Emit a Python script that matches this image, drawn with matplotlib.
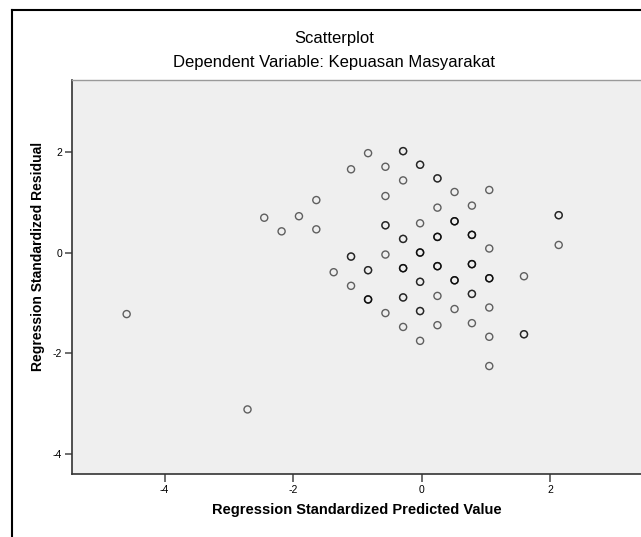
import matplotlib
matplotlib.use("Agg")
import matplotlib.pyplot as plt
from matplotlib.lines import Line2D

# predicted / residual pairs (repeated pairs = overlapping cases)
pred = [
    -4.59, -2.71, -2.45, -2.18, -1.91, -1.64, -1.64, -1.37,
    -1.10, -1.10, -1.10, -1.10,
    -0.835, -0.835, -0.835, -0.835, -0.835, -0.835,
    -0.565, -0.565, -0.565, -0.565, -0.565, -0.565,
    -0.29, -0.29, -0.29, -0.29, -0.29, -0.29, -0.29, -0.29, -0.29, -0.29, -0.29,
    -0.026, -0.026, -0.026, -0.026, -0.026, -0.026, -0.026, -0.026, -0.026, -0.026, -0.026,
    0.244, 0.244, 0.244, 0.244, 0.244, 0.244, 0.244, 0.244, 0.244, 0.244, 0.244,
    0.51, 0.51, 0.51, 0.51, 0.51, 0.51, 0.51, 0.51,
    0.78, 0.78, 0.78, 0.78, 0.78, 0.78, 0.78, 0.78, 0.78, 0.78,
    1.05, 1.05, 1.05, 1.05, 1.05, 1.05, 1.05, 1.05,
    1.59, 1.59, 1.59,
    2.13, 2.13, 2.13,
]
resid = [
    -1.22, -3.11, 0.69, 0.42, 0.72, 1.04, 0.46, -0.39,
    1.65, -0.08, -0.08, -0.66,
    1.97, -0.35, -0.35, -0.93, -0.93, -0.93,
    1.70, 1.12, 0.54, 0.54, -0.04, -1.20,
    2.01, 2.01, 1.43, 0.27, 0.27, -0.31, -0.31, -0.89, -0.89, -1.475, -0.31,
    1.74, 1.74, 0.58, 0.00, 0.00, -0.58, -0.58, -1.16, -1.16, -1.75, 0.00,
    1.47, 1.47, 0.89, 0.31, 0.31, -0.27, -0.27, -0.86, -1.44, 0.31, -0.27,
    1.20, 0.62, 0.62, -0.55, -0.55, -1.12, 0.62, -0.55,
    0.93, 0.35, 0.35, -0.23, -0.23, -0.82, -0.82, -1.40, -0.23, 0.35,
    1.24, 0.08, -0.51, -0.51, -1.09, -1.67, -2.25, -0.51,
    -0.47, -1.62, -1.62,
    0.74, 0.74, 0.15,
]

x_ticks = [-4, -2, 0, 2]
y_ticks = [-4, -2, 0, 2]

plt.rcParams["font.family"] = ["Liberation Sans", "DejaVu Sans"]
plt.rcParams["axes.unicode_minus"] = False

W, H = 641, 537
fig = plt.figure(figsize=(W / 100, H / 100), dpi=100)
ax = fig.add_axes([72 / W, 1 - 474 / H, 1 - 72 / W, (474 - 80) / H])
ax.set_facecolor("#efefef")

ax.scatter(pred, resid, s=26, facecolors="none", edgecolors="black",
           linewidths=1.0, alpha=0.6, zorder=3)

ax.set_xlim(-5.44, 3.41)
ax.set_ylim(-4.39, 3.42)
ax.set_xticks(x_ticks)
ax.set_yticks(y_ticks)
ax.tick_params(axis="x", length=6, width=1.2, color="#555555", labelsize=7.5, pad=2)
ax.tick_params(axis="y", length=5, width=1.2, color="#555555", labelsize=7.5, pad=2)

for side in ["left", "bottom"]:
    ax.spines[side].set_color("#333333")
    ax.spines[side].set_linewidth(1.2)
ax.spines["top"].set_color("#9a9a9a")
ax.spines["top"].set_linewidth(1.0)
ax.spines["right"].set_visible(False)

ax.set_xlabel("Regression Standardized Predicted Value", fontsize=10.5,
              fontweight="bold", labelpad=6)
fig.text(38 / W, 1 - 256 / H, "Regression Standardized Residual", rotation=90,
         ha="center", va="center", fontsize=10, fontweight="bold")

fig.text(334 / W, 1 - 43 / H, "Scatterplot", ha="center", va="baseline", fontsize=12)
fig.text(334 / W, 1 - 67 / H, "Dependent Variable: Kepuasan Masyarakat",
         ha="center", va="baseline", fontsize=12)

# outer chart frame
fig.add_artist(Line2D([12 / W, 12 / W], [0, 1 - 10 / H], color="black", linewidth=1.5))
fig.add_artist(Line2D([12 / W, 1], [1 - 10 / H, 1 - 10 / H], color="black", linewidth=1.5))

fig.savefig("out.png", dpi=100)
